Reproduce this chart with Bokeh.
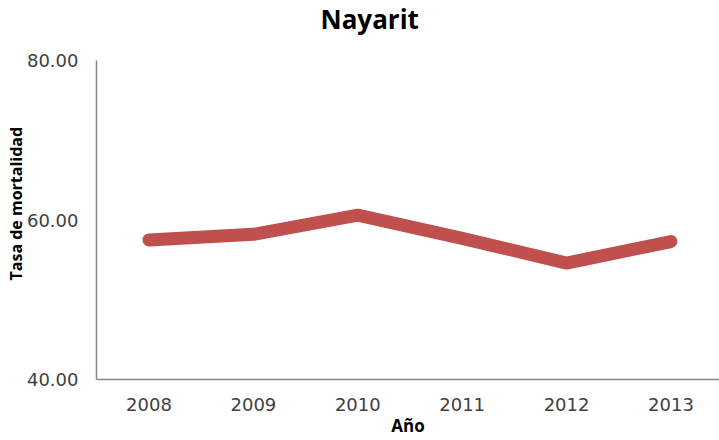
from bokeh.plotting import figure
from bokeh.models import Range1d, FixedTicker, PrintfTickFormatter, ColumnDataSource, Title
from bokeh.embed import file_html
from bokeh.resources import INLINE

years = [2008, 2009, 2010, 2011, 2012, 2013]
tasa = [57.5, 58.2, 60.6, 57.7, 54.6, 57.3]
y_ticks = [40, 60, 80]
x_title = "Año"
y_title = "Tasa de mortalidad"

src = ColumnDataSource(data=dict(x=years, y=tasa))

p = figure(width=719, height=440, output_backend="svg", toolbar_location=None,
           x_range=Range1d(2007.497, 2013.465), y_range=Range1d(40, 80),
           title="Nayarit")
p.line("x", "y", source=src, line_color="#C0504D", line_width=13, line_cap="round", line_join="round")

p.title.align = "left"
p.title.offset = 224
p.title.vertical_align = "bottom"
p.title.text_font = "Open Sans"
p.title.text_font_size = "26px"
p.title.text_font_style = "bold"
p.title.text_color = "#000000"
p.title.standoff = -4

# thin spacer between the title and the plot frame
spacer = Title(text=" ", text_font_size="1px", standoff=23)
p.add_layout(spacer, "above")

p.min_border_left = 96
p.min_border_right = 0
p.min_border_top = 59
p.min_border_bottom = 61
p.outline_line_color = None
p.grid.visible = False

for ax in (p.xaxis[0], p.yaxis[0]):
    ax.axis_line_color = "#868686"
    ax.axis_line_width = 1.5
    ax.major_tick_line_color = None
    ax.minor_tick_line_color = None
    ax.major_tick_out = 0
    ax.major_tick_in = 0
    ax.minor_tick_out = 0
    ax.minor_tick_in = 0
    ax.major_label_text_font = "DejaVu Sans"
    ax.major_label_text_font_size = "18px"
    ax.major_label_text_color = "#404040"

p.xaxis.ticker = FixedTicker(ticks=years)
p.xaxis.major_label_standoff = 18
p.xaxis.axis_label = x_title
p.xaxis.axis_label_text_font = "Open Sans"
p.xaxis.axis_label_text_font_size = "17px"
p.xaxis.axis_label_text_font_style = "bold"
p.xaxis.axis_label_text_color = "#000000"
p.xaxis.axis_label_standoff = 0

p.yaxis.ticker = FixedTicker(ticks=y_ticks)
p.yaxis.formatter = PrintfTickFormatter(format="%.2f")
p.yaxis.major_label_standoff = 18

yt = Title(text=y_title, align="left", offset=99, vertical_align="bottom", standoff=-7,
           text_font="Open Sans", text_font_size="16px", text_font_style="bold",
           text_color="#000000")
p.add_layout(yt, "left")

open("out.html", "w").write(file_html(p, INLINE))
